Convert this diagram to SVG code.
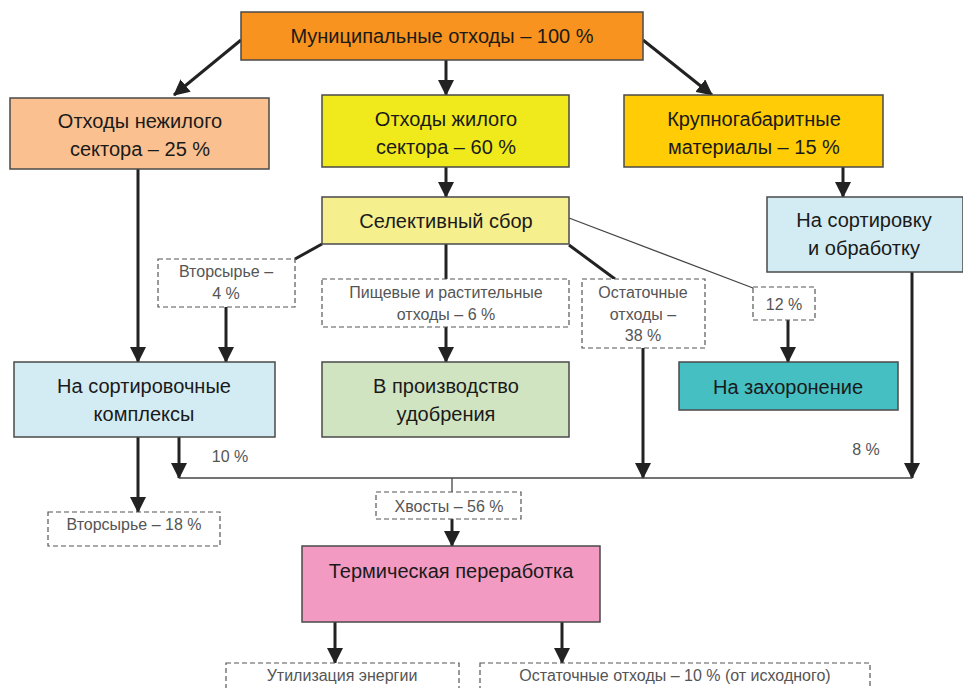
<svg xmlns="http://www.w3.org/2000/svg" width="963" height="688" viewBox="0 0 963 688">
<style>
.box{stroke:#4a4a4a;stroke-width:1.5}
.dash{fill:#fff;stroke:#555;stroke-width:1.2;stroke-dasharray:5 3}
.t{font-family:"Liberation Sans",Arial,sans-serif;font-size:20px;fill:#1a1a1a;text-anchor:middle}
.s{font-family:"Liberation Sans",Arial,sans-serif;font-size:16px;fill:#555;text-anchor:middle}
.c{stroke:#222;stroke-width:3;fill:none}
.thin{stroke:#444;stroke-width:1.3;fill:none}
</style>
<defs>
<marker id="ah" markerUnits="userSpaceOnUse" markerWidth="16" markerHeight="16" viewBox="0 0 16 16" refX="15" refY="8" orient="auto">
<path d="M0,0 L16,8 L0,16 z" fill="#222"/>
</marker>
</defs>
<rect width="963" height="688" fill="#fff"/>
<g id="connectors">
<line class="c" x1="241" y1="40" x2="174" y2="95" marker-end="url(#ah)"/>
<line class="c" x1="446" y1="60" x2="446" y2="95" marker-end="url(#ah)"/>
<line class="c" x1="643" y1="40" x2="712" y2="95" marker-end="url(#ah)"/>
<line class="c" x1="446" y1="167" x2="446" y2="197" marker-end="url(#ah)"/>
<line class="c" x1="843" y1="167" x2="843" y2="197" marker-end="url(#ah)"/>
<line class="c" x1="322" y1="244" x2="295" y2="259"/>
<line class="c" x1="446" y1="244" x2="446" y2="279"/>
<line class="c" x1="569" y1="245" x2="615" y2="279"/>
<line class="thin" x1="569" y1="218" x2="753" y2="288"/>
<line class="c" x1="138" y1="169" x2="138" y2="362" marker-end="url(#ah)"/>
<line class="c" x1="226" y1="307" x2="226" y2="362" marker-end="url(#ah)"/>
<line class="c" x1="446" y1="327" x2="446" y2="362" marker-end="url(#ah)"/>
<line class="c" x1="788" y1="320" x2="788" y2="362" marker-end="url(#ah)"/>
<line class="c" x1="643" y1="348" x2="643" y2="478" marker-end="url(#ah)"/>
<line class="c" x1="912" y1="272" x2="912" y2="478" marker-end="url(#ah)"/>
<line class="c" x1="179" y1="437" x2="179" y2="478" marker-end="url(#ah)"/>
<line class="thin" x1="179" y1="478" x2="912" y2="478"/>
<line class="c" x1="138" y1="437" x2="138" y2="512" marker-end="url(#ah)"/>
<line class="thin" x1="452" y1="478" x2="452" y2="492"/>
<line class="c" x1="452" y1="519" x2="452" y2="546" marker-end="url(#ah)"/>
<line class="c" x1="335" y1="622" x2="335" y2="663" marker-end="url(#ah)"/>
<line class="c" x1="562" y1="622" x2="562" y2="663" marker-end="url(#ah)"/>
</g>
<g id="n-municipal">
<rect class="box" x="241" y="12" width="402" height="48" fill="#F7931E"/>
<text class="t" x="442" y="43">Муниципальные отходы – 100 %</text>
</g>
<g id="n-nonres">
<rect class="box" x="10" y="98" width="259" height="71" fill="#FBC08F"/>
<text class="t" x="140" y="128">Отходы нежилого</text>
<text class="t" x="140" y="156">сектора – 25 %</text>
</g>
<g id="n-res">
<rect class="box" x="322" y="95" width="247" height="72" fill="#F0EA1C"/>
<text class="t" x="446" y="126">Отходы жилого</text>
<text class="t" x="446" y="154">сектора – 60 %</text>
</g>
<g id="n-bulky">
<rect class="box" x="624" y="95" width="259" height="72" fill="#FFCC05"/>
<text class="t" x="754" y="126">Крупногабаритные</text>
<text class="t" x="754" y="154">материалы – 15 %</text>
</g>
<g id="n-selective">
<rect class="box" x="322" y="197" width="247" height="47" fill="#F6EF8E"/>
<text class="t" x="446" y="228">Селективный сбор</text>
</g>
<g id="n-sortproc">
<rect class="box" x="767" y="197" width="196" height="75" fill="#D3ECF3"/>
<text class="t" x="864" y="227">На сортировку</text>
<text class="t" x="864" y="255">и обработку</text>
</g>
<g id="l-recyc4">
<rect class="dash" x="158" y="259" width="137" height="48"/>
<text class="s" x="226" y="277">Вторсырье –</text>
<text class="s" x="226" y="299">4 %</text>
</g>
<g id="l-food6">
<rect class="dash" x="322" y="279" width="247" height="48"/>
<text class="s" x="446" y="298">Пищевые и растительные</text>
<text class="s" x="446" y="320">отходы – 6 %</text>
</g>
<g id="l-resid38">
<rect class="dash" x="582" y="279" width="123" height="69"/>
<text class="s" x="643" y="298">Остаточные</text>
<text class="s" x="643" y="320">отходы –</text>
<text class="s" x="643" y="341">38 %</text>
</g>
<g id="l-12">
<rect class="dash" x="753" y="287" width="62" height="33"/>
<text class="s" x="784" y="310">12 %</text>
</g>
<g id="n-sortcomplex">
<rect class="box" x="14" y="362" width="261" height="75" fill="#D3ECF3"/>
<text class="t" x="144" y="393">На сортировочные</text>
<text class="t" x="144" y="421">комплексы</text>
</g>
<g id="n-fertilizer">
<rect class="box" x="322" y="362" width="247" height="75" fill="#D0E4C1"/>
<text class="t" x="446" y="393">В производство</text>
<text class="t" x="446" y="421">удобрения</text>
</g>
<g id="n-landfill">
<rect class="box" x="679" y="362" width="219" height="48" fill="#45BFC1"/>
<text class="t" x="788" y="394">На захоронение</text>
</g>
<g id="l-10">
<text class="s" x="230" y="462">10 %</text>
</g>
<g id="l-8">
<text class="s" x="866" y="455">8 %</text>
</g>
<g id="l-recyc18">
<rect class="dash" x="48" y="512" width="172" height="34"/>
<text class="s" x="134" y="530">Вторсырье – 18 %</text>
</g>
<g id="l-tails">
<rect class="dash" x="376" y="492" width="145" height="27"/>
<text class="s" x="449" y="512">Хвосты – 56 %</text>
</g>
<g id="n-thermal">
<rect class="box" x="302" y="546" width="298" height="76" fill="#F39AC2"/>
<text class="t" x="451" y="578">Термическая переработка</text>
</g>
<g id="l-energy">
<rect class="dash" x="226" y="663" width="233" height="40"/>
<text class="s" x="342" y="681">Утилизация энергии</text>
</g>
<g id="l-resid10">
<rect class="dash" x="480" y="663" width="390" height="40"/>
<text class="s" x="675" y="681">Остаточные отходы  – 10 % (от исходного)</text>
</g>
</svg>
